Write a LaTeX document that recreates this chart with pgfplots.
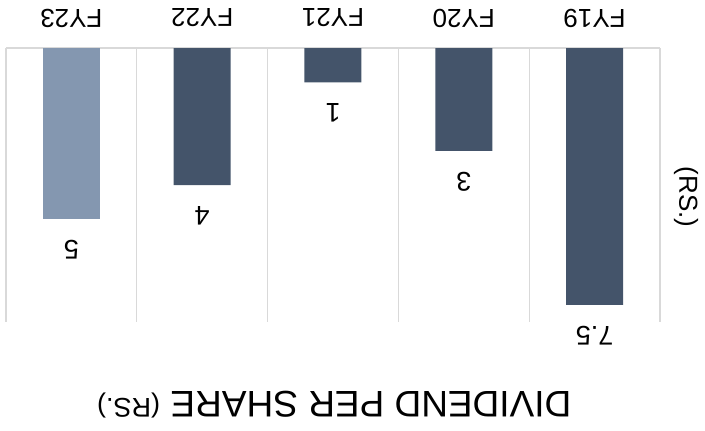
\documentclass[border=0pt]{standalone}
\usepackage{pgfplots}
\pgfplotsset{compat=1.18}
\usepackage{fontspec}
\setmainfont{Liberation Sans}
\definecolor{barA}{HTML}{44546A}
\definecolor{barB}{HTML}{8497B0}
\definecolor{gridc}{HTML}{D9D9D9}
\begin{document}
\begin{tikzpicture}
\path[use as bounding box] (0,0) rectangle (705pt,431pt);
\begin{axis}[
  at={(6pt,109pt)}, anchor=south west,
  scale only axis, width=654pt, height=274pt,
  x dir=reverse, y dir=reverse,
  xmin=-0.5, xmax=4.5, ymin=0, ymax=8,
  ybar, bar width=57pt, bar shift=0pt,
  axis line style={draw=none},
  clip=false,
  xtick={0,1,2,3,4},
  xticklabels={FY19,FY20,FY21,FY22,FY23},
  xticklabel pos=upper,
  major tick length=0pt, minor tick length=0pt,
  xtick style={draw=none},
  xticklabel style={font=\fontsize{26}{30}\selectfont, rotate=180, anchor=center},
  xticklabel shift=30pt,
  ytick=\empty,
  minor xtick={-0.5,0.5,1.5,2.5,3.5,4.5},
  xminorgrids, minor grid style={gridc, line width=1.2pt},
  /pgf/number format/assume math mode=true,
  nodes near coords,
  every node near coord/.append style={font=\fontsize{27}{30}\selectfont, rotate=180, anchor=south, inner sep=21pt, text=black},
]
\draw[gridc, line width=1.2pt] (axis cs:-0.5,0) -- (axis cs:4.5,0);
\addplot[fill=barA, draw=none] coordinates {(0,7.5) (1,3) (2,1) (3,4)};
\addplot[fill=barB, draw=none] coordinates {(4,5)};
\node[rotate=180, font=\fontsize{37}{44}\selectfont] at (axis cs:1.99,10.42) {DIVIDEND PER SHARE \raisebox{7pt}{\fontsize{27}{30}\selectfont (RS.)}};
\node[rotate=-90, font=\fontsize{26}{30}\selectfont] at (axis cs:-0.699,4.35) {(RS.)};
\end{axis}
\end{tikzpicture}
\end{document}
